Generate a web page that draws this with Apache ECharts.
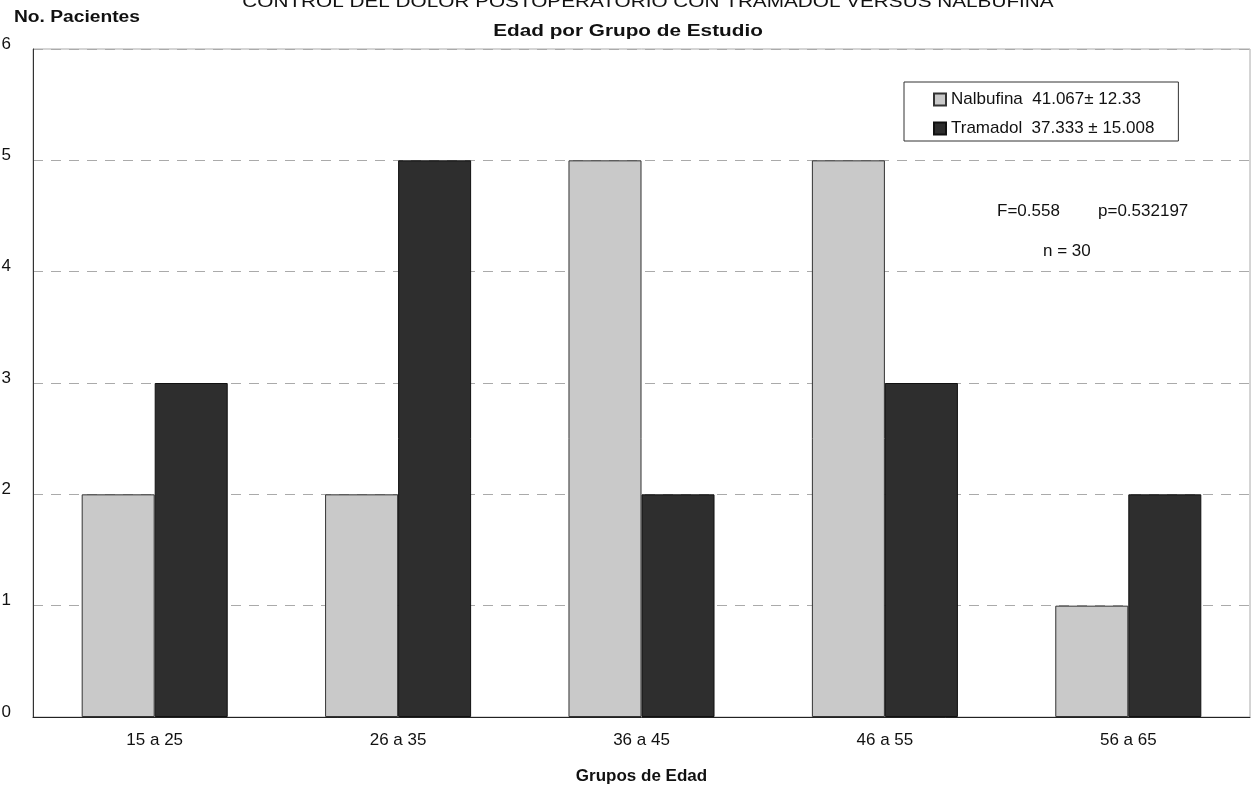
<!DOCTYPE html>
<html>
<head>
<meta charset="utf-8">
<script src="https://cdn.jsdelivr.net/npm/echarts@6/dist/echarts.min.js"></script>
<style>
  html, body { margin: 0; padding: 0; background: #fff; }
  #chart { width: 1252px; height: 786px; }
</style>
</head>
<body>
<div id="chart"></div>
<script>
// datos
const grupos = ['15 a 25', '26 a 35', '36 a 45', '46 a 55', '56 a 65'];
const nalbufina = [2, 2, 5, 5, 1];
const tramadol = [3, 5, 2, 3, 2];
const estadisticas = {
  Nalbufina: '41.067\u00b1 12.33',
  Tramadol: '37.333 \u00b1 15.008'
};
const yTicks = [0, 1, 2, 3, 4, 5, 6];

const fontFamily = '"Liberation Sans", Arial, sans-serif';
const chart = echarts.init(document.getElementById('chart'));

const option = {
  backgroundColor: '#fff',
  textStyle: { fontFamily: fontFamily, color: '#111' },
  grid: {
    left: 33, right: 2, top: 49, bottom: 69,
    outerBoundsMode: 'none',
    show: true, borderColor: '#aaa', borderWidth: 1
  },
  legend: {
    orient: 'vertical',
    left: 904,
    top: 82,
    padding: [9, 24, 4, 29],
    itemGap: 12,
    itemWidth: 12,
    itemHeight: 12,
    borderColor: '#333',
    borderWidth: 1,
    icon: 'rect',
    textStyle: { fontSize: 17, color: '#111' },
    formatter: function (name) {
      return name + '  ' + estadisticas[name];
    },
    data: ['Nalbufina', 'Tramadol']
  },
  graphic: [
    {
      type: 'text', x: 648, y: -6, scaleX: 1.22,
      style: { text: 'CONTROL DEL DOLOR POSTOPERATORIO CON TRAMADOL VERSUS NALBUFINA',
        align: 'center', fontSize: 17, fontFamily: fontFamily, fill: '#111' }
    },
    {
      type: 'text', x: 628, y: 23, scaleX: 1.22,
      style: { text: 'Edad por Grupo de Estudio', align: 'center', fontSize: 17, fontWeight: 'bold',
        fontFamily: fontFamily, fill: '#111' }
    },
    {
      type: 'text', x: 14, y: 10, scaleX: 1.2,
      style: { text: 'No. Pacientes', fontSize: 16, fontWeight: 'bold',
        fontFamily: fontFamily, fill: '#111' }
    },
    {
      type: 'text', x: 997, y: 203,
      style: { text: 'F=0.558', fontSize: 17, fontFamily: fontFamily, fill: '#111' }
    },
    {
      type: 'text', x: 1098, y: 203,
      style: { text: 'p=0.532197', fontSize: 17, fontFamily: fontFamily, fill: '#111' }
    },
    {
      type: 'text', x: 1043, y: 243,
      style: { text: 'n = 30', fontSize: 17, fontFamily: fontFamily, fill: '#111' }
    }
  ],
  xAxis: {
    type: 'category',
    data: grupos,
    name: 'Grupos de Edad',
    nameLocation: 'middle',
    nameGap: 51,
    nameTextStyle: { fontSize: 17, fontWeight: 'bold', color: '#111' },
    axisLine: { lineStyle: { color: '#222', width: 1 } },
    axisTick: { show: false },
    axisLabel: { fontSize: 17, color: '#111', margin: 15 }
  },
  yAxis: {
    type: 'value',
    min: yTicks[0],
    max: yTicks[yTicks.length - 1],
    interval: 1,
    axisLine: { show: true, lineStyle: { color: '#333', width: 1 } },
    axisTick: { show: false },
    axisLabel: { fontSize: 17, color: '#111', margin: 22, verticalAlign: 'bottom', lineHeight: 10 },
    splitLine: { lineStyle: { color: '#aaa', type: [10, 8], width: 1 } }
  },
  series: [
    {
      name: 'Nalbufina',
      type: 'bar',
      data: nalbufina,
      barGap: '0%',
      barCategoryGap: '40%',
      itemStyle: { color: '#c9c9c9', borderColor: '#333', borderWidth: 1 }
    },
    {
      name: 'Tramadol',
      type: 'bar',
      data: tramadol,
      itemStyle: { color: '#2e2e2e', borderColor: '#111', borderWidth: 1 }
    }
  ]
};

chart.setOption(option);
</script>
</body>
</html>
